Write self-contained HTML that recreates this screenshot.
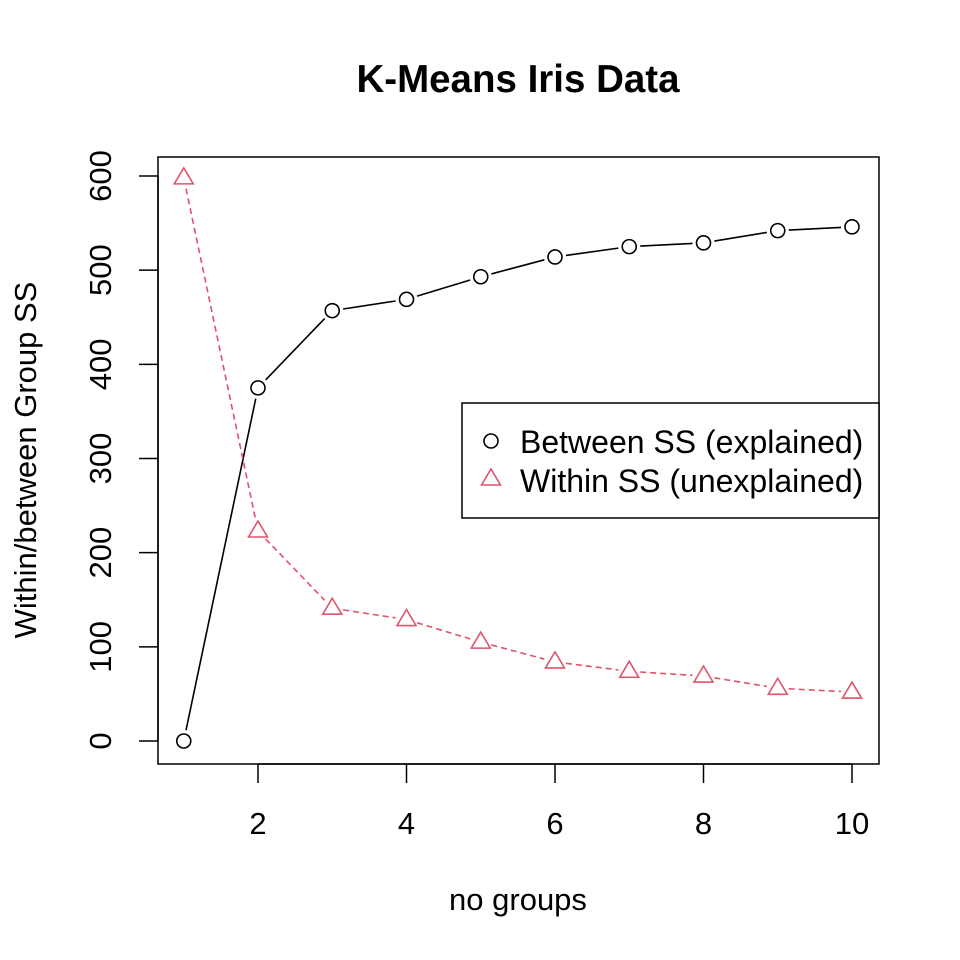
<!DOCTYPE html>
<html><head><meta charset="utf-8"><style>body{margin:0;background:#fff}svg{display:block}text{font-family:"Liberation Sans",Arial,sans-serif;fill:#000}</style></head>
<body>
<svg id="chart" width="960" height="960" viewBox="0 0 960 960" xmlns="http://www.w3.org/2000/svg">
<rect width="960" height="960" fill="#fff"/>
<text x="518" y="92" font-size="38.5" font-weight="bold" text-anchor="middle">K-Means Iris Data</text>
<rect x="158" y="157" width="721" height="607" fill="none" stroke="#000" stroke-width="1.5"/>
<text x="518" y="910" font-size="31" text-anchor="middle">no groups</text>
<text transform="translate(36,460) rotate(-90)" font-size="31" text-anchor="middle">Within/between Group SS</text>
<g id="axes"></g>
<g id="series"></g>
<g>
<rect x="462" y="403" width="417" height="115" fill="#fff" stroke="#000" stroke-width="1.5"/>
<circle cx="491" cy="441" r="7" fill="none" stroke="#000" stroke-width="1.6"/>
<text x="520" y="453" font-size="32">Between SS (explained)</text>
<polygon points="491,469 500.5,485 481.5,485" fill="none" stroke="#df536b" stroke-width="1.6"/>
<text x="520" y="492" font-size="32">Within SS (unexplained)</text>
</g>
</svg>
<script>
const groups=[1,2,3,4,5,6,7,8,9,10];
const betweenSS=[0,375,457,469,493,514,525,529,542,546];
const withinSS=[598,223,141,129,105,84,74,69,56,52];
const xTicks=[2,4,6,8,10];
const yTicks=[0,100,200,300,400,500,600];
const NS='http://www.w3.org/2000/svg';
const xs=v=>183.75+(v-1)*74.25;
const ys=v=>741-v*565/600;
function mk(t,a,p){const e=document.createElementNS(NS,t);for(const k in a)e.setAttribute(k,a[k]);p.appendChild(e);return e;}
const ax=document.getElementById('axes'),se=document.getElementById('series');
mk('line',{x1:xs(2),x2:xs(10),y1:764,y2:764,stroke:'#000','stroke-width':1.5},ax);
xTicks.forEach(t=>{
 const l=mk('line',{x1:xs(t),x2:xs(t),y1:764,y2:783,stroke:'#000','stroke-width':1.5},ax);
 
 
 const tx=mk('text',{x:xs(t),y:834,'font-size':31,'text-anchor':'middle'},ax);tx.textContent=t;
 
 
});
mk('line',{x1:158,x2:158,y1:ys(0),y2:ys(600),stroke:'#000','stroke-width':1.5},ax);
yTicks.forEach(t=>{
 const l=mk('line',{x1:139,x2:158,y1:ys(t),y2:ys(t),stroke:'#000','stroke-width':1.5},ax);
 
 
 const tx=mk('text',{transform:`translate(111,${ys(t)}) rotate(-90)`,'font-size':31,'text-anchor':'middle'},ax);tx.textContent=t;
 
 
});
function series(vals,color,dash,shape,name){
 for(let i=0;i<vals.length-1;i++){
  const x1=xs(groups[i]),y1=ys(vals[i]),x2=xs(groups[i+1]),y2=ys(vals[i+1]);
  const d=Math.hypot(x2-x1,y2-y1),g=11;if(d<2*g)continue;
  const ux=(x2-x1)/d,uy=(y2-y1)/d;
  const l=mk('line',{x1:x1+ux*g,y1:y1+uy*g,x2:x2-ux*g,y2:y2-uy*g,stroke:color,'stroke-width':1.6,'stroke-dasharray':dash},se);
  
  
 }
 vals.forEach((v,i)=>{
  const x=xs(groups[i]),y=ys(v);let e;
  if(shape==='c')e=mk('circle',{cx:x,cy:y,r:7,fill:'none',stroke:color,'stroke-width':1.6},se);
  else e=mk('polygon',{points:`${x},${y-10} ${x+9.5},${y+6} ${x-9.5},${y+6}`,fill:'none',stroke:color,'stroke-width':1.6},se);
  
  
 });
}
series(betweenSS,'#000','none','c','between-ss');
series(withinSS,'#df536b','6,4','t','within-ss');
</script>
</body></html>
